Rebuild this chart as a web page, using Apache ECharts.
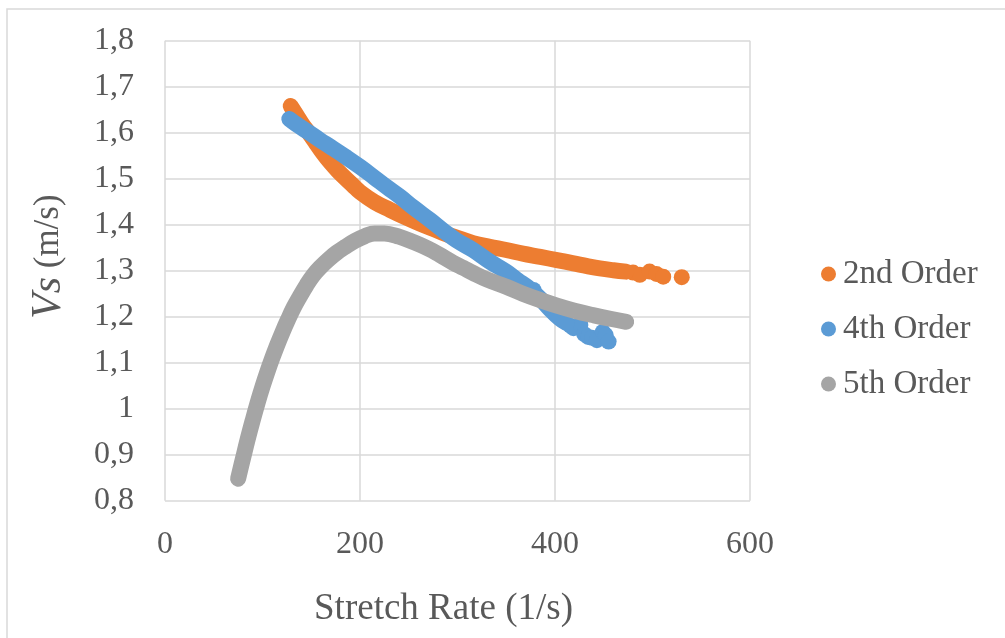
<!DOCTYPE html>
<html>
<head>
<meta charset="utf-8">
<script src="https://cdn.jsdelivr.net/npm/echarts@6/dist/echarts.min.js"></script>
<style>
html,body{margin:0;padding:0;background:#fff;}
#c{width:1005px;height:638px;}
</style>
</head>
<body>
<div id="c"></div>
<script>
// ---- data ----
const seriesNames = ['2nd Order', '4th Order', '5th Order'];
const xTickValues = [0, 200, 400, 600];
const yTickLabels = ['0,8','0,9','1','1,1','1,2','1,3','1,4','1,5','1,6','1,7','1,8'];

// 2nd Order: continuous band and the separate dots at its end
const order2Band = [
  [128.9,1.658],[135,1.638],[141,1.618],[148,1.598],[155,1.577],[162,1.556],[169,1.537],
  [177,1.518],[185,1.501],[193,1.485],[200,1.471],[215,1.449],[231,1.432],[245,1.418],
  [261,1.403],[275,1.391],[288,1.380],[302,1.370],[316,1.360],[333,1.352],[350,1.345],
  [367,1.337],[385,1.330],[402,1.323],[419,1.316],[433,1.310],[446,1.305],[460,1.301],[473,1.298]
];
const order2Dots = [[480,1.296],[487,1.291],[497,1.298],[504,1.293],[511,1.287],[530,1.286]];

// 4th Order: continuous band and the scattered end
const order4Band = [
  [127.5,1.630],[135,1.618],[145,1.604],[159,1.584],[170,1.569],[185,1.548],[200,1.526],
  [215,1.502],[228,1.481],[241,1.461],[255,1.437],[272,1.410],[285,1.388],[299,1.366],
  [316,1.345],[333,1.320],[350,1.298],[362,1.279],[372,1.264],[386,1.237],[395,1.216],
  [405,1.196],[412,1.186]
];
const order4Dots = [[378,1.258],[416,1.180],[419,1.175],[426,1.182],[430,1.162],[434,1.156],
  [438,1.154],[443,1.149],[449,1.167],[452,1.160],[455,1.146]];

// 5th Order
const order5Band = [
  [75,0.848],[80,0.892],[85,0.935],[90,0.975],[95,1.013],[100,1.048],[105,1.080],[110,1.110],
  [115,1.138],[120,1.164],[126,1.193],[132,1.220],[138,1.243],[145,1.268],[152,1.290],
  [160,1.309],[168,1.325],[176,1.339],[185,1.352],[195,1.365],[205,1.375],[215,1.381],
  [225,1.381],[240,1.374],[255,1.362],[270,1.348],[282,1.334],[295,1.318],[306,1.306],
  [316,1.295],[330,1.281],[350,1.265],[367,1.250],[385,1.236],[402,1.224],[420,1.213],
  [440,1.203],[458,1.195],[473,1.189]
];

const colors = ['#ED7D31', '#5B9BD5', '#A5A5A5'];
const font = '"Liberation Serif", "Times New Roman", serif';
const textColor = '#595959';
const gridColor = '#D9D9D9';
const markSize = 16;

function band(name, data, color) {
  return {
    name: name, type: 'line', data: data, smooth: 0.4,
    showSymbol: false, symbol: 'circle', symbolSize: markSize,
    itemStyle: { color: color },
    lineStyle: { color: color, width: markSize, cap: 'round', join: 'round' },
    emphasis: { disabled: true }, silent: true
  };
}
function dots(name, data, color) {
  return {
    name: name, type: 'scatter', data: data, symbol: 'circle', symbolSize: markSize,
    itemStyle: { color: color, opacity: 1 }, emphasis: { disabled: true }, silent: true
  };
}

const chart = echarts.init(document.getElementById('c'), null, { renderer: 'canvas' });
chart.setOption({
  animation: false,
  backgroundColor: '#fff',
  textStyle: { fontFamily: font, color: textColor },
  graphic: [{
    type: 'rect', silent: true, z: -1,
    shape: { x: 7, y: 9, width: 1200, height: 800 },
    style: { fill: 'none', stroke: gridColor, lineWidth: 1.5 }
  }],
  grid: { left: 165, right: 255, top: 40.7, bottom: 137.3, containLabel: false },
  xAxis: {
    type: 'value', min: 0, max: 600, interval: 200,
    axisLine: { show: false }, axisTick: { show: false },
    splitLine: { show: true, lineStyle: { color: gridColor, width: 1.5 } },
    axisLabel: {
      fontFamily: font, fontSize: 32, color: textColor, margin: 28,
      formatter: v => (xTickValues.indexOf(v) >= 0 ? String(v) : '')
    },
    name: 'Stretch Rate (1/s)', nameLocation: 'middle', nameGap: 90,
    nameTextStyle: { fontFamily: font, fontSize: 37, color: textColor, padding: [0, 28, 0, 0] }
  },
  yAxis: {
    type: 'value', min: 0.8, max: 1.8, interval: 0.1,
    axisLine: { show: false }, axisTick: { show: false },
    splitLine: { show: true, lineStyle: { color: gridColor, width: 1.5 } },
    axisLabel: {
      fontFamily: font, fontSize: 32, color: textColor, margin: 31,
      formatter: v => yTickLabels[Math.round((v - 0.8) * 10)] || ''
    },
    name: '{v|Vs}{n| (m/s)}', nameLocation: 'middle', nameGap: 95,
    nameTextStyle: {
      fontFamily: font, color: textColor, padding: [0, 0, 0, 28],
      rich: {
        v: { fontFamily: font, fontSize: 42, fontStyle: 'italic', color: textColor },
        n: { fontFamily: font, fontSize: 35, color: textColor }
      }
    }
  },
  legend: {
    orient: 'vertical', left: 816, top: 249,
    itemWidth: 15, itemHeight: 15, itemGap: 15,
    icon: 'circle', selectedMode: false,
    textStyle: { fontFamily: font, fontSize: 33, color: textColor, lineHeight: 40, padding: [0, 0, 0, 2] },
    data: seriesNames.map((n, i) => ({ name: n, icon: 'circle', itemStyle: { color: colors[i] } }))
  },
  series: [
    band(seriesNames[0], order2Band, colors[0]),
    dots(seriesNames[0], order2Dots, colors[0]),
    band(seriesNames[1], order4Band, colors[1]),
    dots(seriesNames[1], order4Dots, colors[1]),
    band(seriesNames[2], order5Band, colors[2])
  ]
});
</script>
</body>
</html>
